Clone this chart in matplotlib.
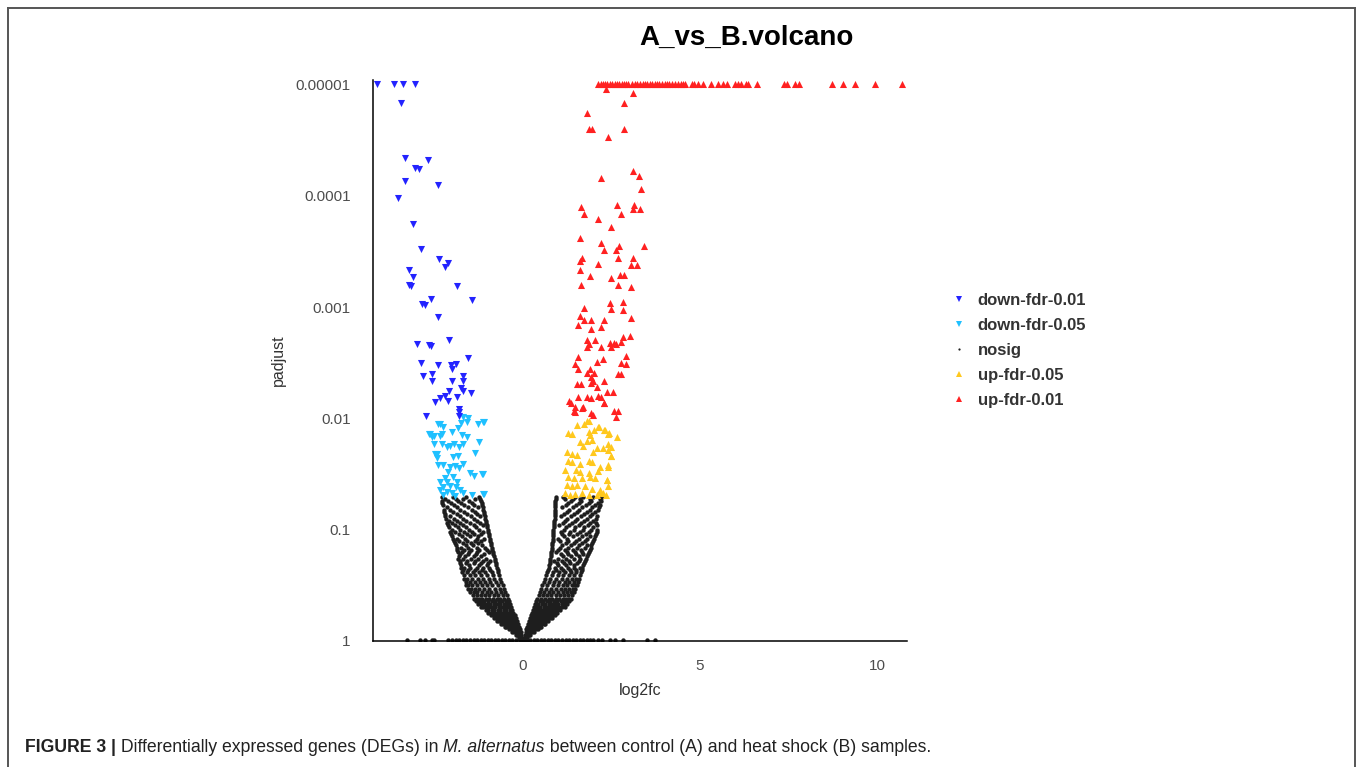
import matplotlib
matplotlib.use("Agg")
import matplotlib.pyplot as plt
from matplotlib.lines import Line2D

plt.rcParams['font.family'] = ['Liberation Sans', 'DejaVu Sans']

# ---- data: (log2fc, -log10 padjust) ----
# padjust is capped at 1e-5, so many up genes sit on the top row (y = 5)
up01_top_x = [2.13, 2.19, 2.25, 2.32, 2.36, 2.45, 2.52, 2.60, 2.66, 2.72, 2.79, 2.85,
              2.90, 2.98, 3.07, 3.15, 3.23, 3.30, 3.38, 3.45, 3.51, 3.59, 3.64, 3.72,
              3.79, 3.85, 3.93, 4.01, 4.06, 4.13, 4.21, 4.29, 4.39, 4.45, 4.52, 4.58,
              4.77, 4.84, 4.95, 5.08, 5.30, 5.52, 5.64, 5.77, 5.99, 6.08, 6.15, 6.30,
              6.36, 6.62, 7.37, 7.45, 7.68, 7.80, 8.74, 9.05, 9.38, 9.94, 10.72]

up01_pts = [(2.34, 4.96), (3.10, 4.92), (2.86, 4.83), (1.80, 4.74), (1.85, 4.60),
            (1.96, 4.60), (2.86, 4.60), (2.41, 4.53), (2.20, 4.16), (3.10, 4.22),
            (3.27, 4.18), (3.34, 4.06), (1.64, 3.90), (1.72, 3.84), (2.66, 3.92),
            (2.78, 3.84), (3.14, 3.92), (3.10, 3.88), (3.31, 3.88), (2.13, 3.79),
            (2.49, 3.72), (1.60, 3.62), (2.20, 3.58), (2.29, 3.51), (2.62, 3.51),
            (2.70, 3.55), (3.43, 3.55), (1.68, 3.44), (1.60, 3.41), (2.13, 3.39),
            (2.69, 3.44), (3.10, 3.44), (3.06, 3.38), (3.22, 3.38), (1.60, 3.33),
            (1.88, 3.28), (2.49, 3.26), (2.74, 3.29), (2.86, 3.29), (1.64, 3.20),
            (2.69, 3.20), (3.06, 3.18), (2.45, 3.04), (2.82, 3.05), (1.72, 2.99),
            (2.49, 2.98), (2.82, 2.97), (1.60, 2.92), (1.72, 2.88), (1.92, 2.88),
            (2.29, 2.88), (3.06, 2.90), (1.55, 2.84), (2.20, 2.82), (1.92, 2.80),
            (2.82, 2.73), (3.02, 2.74), (1.80, 2.70), (1.85, 2.67), (2.04, 2.70),
            (2.45, 2.68), (2.57, 2.68), (2.62, 2.67), (2.78, 2.69), (1.80, 2.64),
            (2.20, 2.64), (2.49, 2.64), (2.90, 2.56), (1.55, 2.55), (1.48, 2.49),
            (2.25, 2.53), (2.09, 2.51), (2.78, 2.50), (2.90, 2.49), (1.55, 2.44),
            (1.80, 2.41), (1.89, 2.44), (2.01, 2.41), (2.69, 2.40), (2.78, 2.40),
            (1.92, 2.37), (1.97, 2.34), (2.29, 2.34), (1.52, 2.31), (1.64, 2.31),
            (1.92, 2.32), (2.09, 2.28), (2.37, 2.24), (2.53, 2.24), (1.55, 2.19),
            (1.80, 2.19), (1.92, 2.18), (2.13, 2.20), (2.21, 2.19), (1.31, 2.16),
            (1.36, 2.14), (2.29, 2.14), (1.48, 2.10), (1.68, 2.09), (1.48, 2.06),
            (1.92, 2.05), (1.97, 2.03), (2.57, 2.07), (2.69, 2.07), (2.62, 2.01),
            (1.44, 2.07), (1.69, 2.10), (2.30, 2.14)]

up05_pts = [(1.82, 1.98), (1.52, 1.94), (1.73, 1.95), (2.13, 1.92), (2.30, 1.90),
            (1.26, 1.87), (1.39, 1.86), (1.85, 1.88), (1.89, 1.85), (2.39, 1.86),
            (2.65, 1.83), (1.61, 1.79), (1.80, 1.80), (1.94, 1.81), (2.08, 1.73),
            (2.27, 1.73), (2.39, 1.72), (1.23, 1.70), (1.37, 1.68), (1.52, 1.67),
            (2.49, 1.66), (1.85, 1.62), (1.96, 1.61), (1.28, 1.62), (1.37, 1.61),
            (1.61, 1.59), (2.18, 1.56), (2.41, 1.56), (1.19, 1.54), (1.49, 1.54),
            (1.61, 1.52), (1.85, 1.51), (2.13, 1.53), (1.28, 1.47), (1.45, 1.46),
            (1.66, 1.46), (1.89, 1.47), (2.03, 1.46), (2.36, 1.45), (1.23, 1.40),
            (1.37, 1.39), (1.52, 1.40), (1.75, 1.39), (1.94, 1.37), (2.18, 1.36),
            (2.41, 1.39), (1.19, 1.33), (1.33, 1.31), (1.47, 1.32), (1.66, 1.33),
            (1.85, 1.31), (2.08, 1.31), (2.27, 1.33), (1.87, 1.98), (2.15, 1.92),
            (2.32, 1.90), (2.44, 1.87), (2.48, 1.74), (2.41, 1.77), (2.48, 1.66),
            (2.38, 1.45), (2.34, 1.31), (2.18, 1.34), (2.41, 1.58), (1.98, 1.70),
            (1.70, 1.75), (2.00, 1.90)]

down01_pts = [(-4.12, 5.0), (-3.66, 5.0), (-3.38, 5.0), (-3.05, 5.0), (-3.46, 4.83),
              (-3.33, 4.34), (-2.69, 4.32), (-3.05, 4.25), (-2.93, 4.24), (-3.33, 4.13),
              (-2.41, 4.10), (-3.54, 3.98), (-3.10, 3.75), (-2.89, 3.52), (-2.37, 3.43),
              (-2.13, 3.40), (-2.20, 3.36), (-3.21, 3.33), (-3.10, 3.27), (-3.21, 3.20),
              (-3.17, 3.19), (-1.87, 3.19), (-1.43, 3.06), (-2.61, 3.07), (-2.86, 3.03),
              (-2.77, 3.02), (-2.41, 2.91), (-2.09, 2.70), (-3.00, 2.67), (-2.65, 2.66),
              (-2.61, 2.65), (-1.56, 2.54), (-2.89, 2.50), (-2.41, 2.48), (-2.04, 2.48),
              (-1.89, 2.49), (-2.01, 2.44), (-2.82, 2.38), (-2.58, 2.40), (-2.57, 2.34),
              (-2.01, 2.34), (-1.71, 2.38), (-1.71, 2.34), (-2.09, 2.25), (-1.76, 2.27),
              (-1.71, 2.25), (-1.48, 2.23), (-2.20, 2.20), (-2.36, 2.18), (-2.49, 2.15),
              (-2.13, 2.16), (-1.87, 2.19), (-1.80, 2.08), (-2.74, 2.02), (-1.80, 2.02),
              (-1.80, 2.06)]

down05_pts = [(-2.41, 1.95), (-2.25, 1.92), (-2.01, 1.88), (-1.83, 1.91), (-1.73, 1.85),
              (-1.59, 1.83), (-1.59, 1.97), (-1.55, 2.00), (-1.69, 2.01), (-1.26, 1.95),
              (-1.12, 1.97), (-2.63, 1.86), (-2.53, 1.84), (-2.36, 1.84), (-2.30, 1.86),
              (-2.51, 1.77), (-2.28, 1.77), (-2.16, 1.74), (-2.06, 1.75), (-1.94, 1.77),
              (-1.80, 1.74), (-1.69, 1.77), (-1.24, 1.79), (-2.49, 1.68), (-2.44, 1.64),
              (-1.97, 1.65), (-1.83, 1.66), (-1.36, 1.69), (-2.39, 1.58), (-2.25, 1.58),
              (-1.69, 1.59), (-2.06, 1.56), (-1.92, 1.57), (-1.80, 1.55), (-2.11, 1.52),
              (-1.50, 1.51), (-1.40, 1.48), (-1.17, 1.50), (-2.20, 1.46), (-1.97, 1.47),
              (-2.34, 1.43), (-2.16, 1.43), (-1.87, 1.43), (-2.25, 1.38), (-2.06, 1.39),
              (-1.89, 1.38), (-2.34, 1.36), (-2.16, 1.34), (-1.78, 1.36), (-2.01, 1.33),
              (-1.69, 1.33), (-1.45, 1.31), (-1.12, 1.32), (-2.25, 1.31), (-1.92, 1.30),
              (-2.36, 1.95), (-2.67, 1.86), (-2.58, 1.83), (-1.10, 1.97), (-2.44, 1.68),
              (-1.12, 1.50), (-1.10, 1.32), (-1.75, 1.96)]

# non-significant genes, row by row: (-log10 padjust, [log2fc, ...])
nosig_left = [
    (0.01, [-0.02, -0.04]),
    (0.03, [-0.03, -0.06, -0.09, -0.12]),
    (0.055, [-0.05, -0.09, -0.13, -0.17, -0.21]),
    (0.08, [-0.07, -0.11, -0.16, -0.21, -0.26, -0.31]),
    (0.105, [-0.10, -0.15, -0.20, -0.25, -0.30, -0.35, -0.41]),
    (0.13, [-0.12, -0.17, -0.23, -0.29, -0.35, -0.41, -0.47, -0.52]),
    (0.155, [-0.15, -0.21, -0.27, -0.33, -0.39, -0.45, -0.51, -0.57, -0.62]),
    (0.18, [-0.18, -0.24, -0.30, -0.37, -0.44, -0.50, -0.57, -0.63, -0.69, -0.74]),
    (0.205, [-0.21, -0.28, -0.35, -0.42, -0.49, -0.56, -0.63, -0.70, -0.77, -0.83]),
    (0.23, [-0.24, -0.31, -0.39, -0.46, -0.54, -0.61, -0.69, -0.76, -0.84, -0.91]),
    (0.255, [-0.27, -0.35, -0.43, -0.51, -0.59, -0.67, -0.75, -0.83, -0.91, -0.99]),
    (0.28, [-0.30, -0.38, -0.47, -0.55, -0.64, -0.72, -0.81, -0.89, -0.98, -1.06]),
    (0.305, [-0.33, -0.42, -0.51, -0.60, -0.69, -0.78, -0.87, -0.96, -1.05, -1.13, -1.20]),
    (0.33, [-0.36, -0.45, -0.55, -0.64, -0.74, -0.83, -0.93, -1.02, -1.11, -1.20, -1.27]),
    (0.355, [-0.39, -0.49, -0.59, -0.69, -0.79, -0.89, -0.99, -1.09, -1.18, -1.27, -1.34]),
    (0.38, [-0.42, -0.53, -0.64, -0.74, -0.85, -0.95, -1.05, -1.15, -1.25, -1.33, -1.40]),
    (0.41, [-0.46, -0.58, -0.70, -0.83, -0.95, -1.07, -1.19, -1.31, -1.42]),
    (0.44, [-0.50, -0.63, -0.77, -0.90, -1.03, -1.16, -1.29, -1.40, -1.50]),
    (0.47, [-0.53, -0.66, -0.80, -0.95, -1.10, -1.24, -1.37, -1.48, -1.56]),
    (0.50, [-0.57, -0.72, -0.88, -1.02, -1.17, -1.30, -1.43, -1.55, -1.61]),
    (0.53, [-0.61, -0.76, -0.93, -1.08, -1.22, -1.36, -1.50, -1.62]),
    (0.56, [-0.64, -0.81, -0.97, -1.13, -1.28, -1.44, -1.58, -1.66]),
    (0.59, [-0.67, -0.85, -1.02, -1.20, -1.35, -1.51, -1.68]),
    (0.62, [-0.70, -0.88, -1.07, -1.25, -1.42, -1.58, -1.72]),
    (0.64, [-0.72, -0.93, -1.15, -1.37, -1.55, -1.70]),
    (0.66, [-0.74, -0.95, -1.12, -1.31, -1.49, -1.66, -1.76]),
    (0.68, [-0.76, -1.03, -1.24, -1.52, -1.74]),
    (0.70, [-0.77, -0.98, -1.18, -1.40, -1.60, -1.79]),
    (0.72, [-0.79, -0.92, -1.14, -1.35, -1.58, -1.77]),
    (0.74, [-0.80, -1.05, -1.27, -1.46, -1.71, -1.83]),
    (0.76, [-0.82, -1.18, -1.40, -1.63, -1.81]),
    (0.78, [-0.84, -1.10, -1.33, -1.55, -1.77]),
    (0.80, [-0.86, -0.97, -1.29, -1.53, -1.72, -1.84]),
    (0.82, [-0.87, -1.02, -1.24, -1.48, -1.66, -1.86]),
    (0.84, [-0.88, -1.08, -1.31, -1.55, -1.75, -1.88]),
    (0.86, [-0.90, -1.15, -1.41, -1.62, -1.90]),
    (0.88, [-0.91, -1.26, -1.47, -1.70, -1.93]),
    (0.90, [-0.92, -1.19, -1.36, -1.58, -1.80, -1.96]),
    (0.92, [-0.93, -1.09, -1.31, -1.64, -1.87, -1.99]),
    (0.94, [-0.95, -1.27, -1.50, -1.73, -2.01]),
    (0.96, [-0.96, -1.20, -1.38, -1.59, -1.81, -2.04]),
    (0.98, [-0.98, -1.13, -1.44, -1.68, -1.92, -2.06]),
    (1.00, [-1.00, -1.24, -1.52, -1.77, -2.00]),
    (1.02, [-1.01, -1.33, -1.61, -1.85, -2.10]),
    (1.04, [-1.02, -1.14, -1.40, -1.69, -1.93, -2.12]),
    (1.06, [-1.04, -1.22, -1.49, -1.79, -2.02, -2.15]),
    (1.08, [-1.05, -1.31, -1.60, -1.87, -2.09]),
    (1.10, [-1.07, -1.40, -1.70, -1.95, -2.18]),
    (1.12, [-1.08, -1.21, -1.48, -1.79, -2.05, -2.20]),
    (1.14, [-1.10, -1.30, -1.58, -1.88, -2.21]),
    (1.16, [-1.11, -1.37, -1.67, -1.97, -2.22]),
    (1.18, [-1.13, -1.45, -1.77, -2.05, -2.24]),
    (1.20, [-1.14, -1.28, -1.55, -1.86, -2.14]),
    (1.22, [-1.16, -1.38, -1.66, -1.96, -2.27]),
    (1.24, [-1.17, -1.44, -1.75, -2.04, -2.28]),
    (1.26, [-1.19, -1.52, -1.83, -2.12, -2.29]),
    (1.28, [-1.21, -1.35, -1.70, -1.90, -2.20]),
    (1.29, [-1.24, -1.62, -1.98, -2.30]),
]

nosig_right = [
    (0.01, [0.02, 0.04]),
    (0.03, [0.03, 0.06, 0.09, 0.12]),
    (0.055, [0.05, 0.09, 0.13, 0.17, 0.21]),
    (0.08, [0.07, 0.11, 0.16, 0.21, 0.26, 0.31]),
    (0.105, [0.09, 0.14, 0.19, 0.25, 0.31, 0.36, 0.41]),
    (0.13, [0.11, 0.17, 0.23, 0.29, 0.35, 0.41, 0.47, 0.52]),
    (0.155, [0.14, 0.20, 0.26, 0.33, 0.39, 0.46, 0.52, 0.58, 0.63]),
    (0.18, [0.16, 0.23, 0.30, 0.37, 0.44, 0.51, 0.58, 0.64, 0.70]),
    (0.205, [0.19, 0.26, 0.33, 0.41, 0.48, 0.56, 0.63, 0.70, 0.77, 0.83]),
    (0.23, [0.22, 0.29, 0.37, 0.45, 0.53, 0.61, 0.69, 0.76, 0.84, 0.90]),
    (0.255, [0.25, 0.33, 0.41, 0.49, 0.57, 0.66, 0.74, 0.82, 0.90, 0.97]),
    (0.28, [0.28, 0.36, 0.45, 0.54, 0.62, 0.71, 0.80, 0.88, 0.97, 1.05]),
    (0.305, [0.31, 0.40, 0.49, 0.58, 0.67, 0.76, 0.85, 0.94, 1.03, 1.11, 1.18]),
    (0.33, [0.34, 0.43, 0.53, 0.62, 0.72, 0.81, 0.90, 1.00, 1.09, 1.17, 1.24]),
    (0.355, [0.37, 0.47, 0.57, 0.67, 0.77, 0.87, 0.97, 1.07, 1.16, 1.24, 1.30]),
    (0.38, [0.40, 0.51, 0.61, 0.72, 0.82, 0.92, 1.02, 1.12, 1.21, 1.29, 1.35]),
    (0.41, [0.44, 0.56, 0.68, 0.80, 0.92, 1.04, 1.16, 1.27, 1.38]),
    (0.44, [0.47, 0.60, 0.73, 0.86, 0.99, 1.12, 1.24, 1.35, 1.43]),
    (0.47, [0.50, 0.64, 0.78, 0.92, 1.06, 1.19, 1.31, 1.41, 1.48]),
    (0.50, [0.54, 0.69, 0.84, 0.98, 1.12, 1.25, 1.38, 1.47, 1.53]),
    (0.53, [0.58, 0.73, 0.88, 1.03, 1.18, 1.31, 1.44, 1.56]),
    (0.56, [0.61, 0.77, 0.93, 1.09, 1.24, 1.38, 1.50, 1.59]),
    (0.59, [0.65, 0.81, 0.98, 1.14, 1.30, 1.45, 1.62]),
    (0.62, [0.68, 0.85, 1.02, 1.19, 1.36, 1.51, 1.64]),
    (0.64, [0.70, 0.92, 1.13, 1.33, 1.50, 1.66]),
    (0.66, [0.72, 0.90, 1.08, 1.27, 1.44, 1.60, 1.68]),
    (0.68, [0.73, 0.99, 1.22, 1.45, 1.70]),
    (0.70, [0.75, 0.95, 1.15, 1.34, 1.53, 1.72]),
    (0.72, [0.76, 0.88, 1.10, 1.30, 1.57, 1.75]),
    (0.74, [0.77, 1.00, 1.22, 1.43, 1.62, 1.78]),
    (0.76, [0.78, 1.13, 1.36, 1.58, 1.80]),
    (0.78, [0.79, 1.06, 1.28, 1.50, 1.70, 1.83]),
    (0.80, [0.80, 0.93, 1.24, 1.47, 1.68, 1.86]),
    (0.82, [0.81, 0.98, 1.19, 1.42, 1.63, 1.88]),
    (0.84, [0.82, 1.04, 1.28, 1.52, 1.74, 1.91]),
    (0.86, [0.83, 1.10, 1.36, 1.58, 1.80, 1.93]),
    (0.88, [0.83, 1.20, 1.43, 1.66, 1.96]),
    (0.90, [0.84, 1.04, 1.27, 1.50, 1.74, 1.98]),
    (0.92, [0.84, 0.99, 1.23, 1.57, 1.82, 2.01]),
    (0.94, [0.85, 1.15, 1.42, 1.68, 1.90, 2.03]),
    (0.96, [0.85, 1.10, 1.30, 1.52, 1.78, 2.06]),
    (0.98, [0.86, 1.08, 1.33, 1.60, 1.85, 2.09]),
    (1.00, [0.86, 1.16, 1.43, 1.69, 1.93, 2.10]),
    (1.02, [0.87, 1.20, 1.47, 1.73, 1.97]),
    (1.04, [0.87, 1.03, 1.30, 1.58, 1.84, 2.08]),
    (1.06, [0.88, 1.12, 1.38, 1.65, 1.90, 2.05]),
    (1.08, [0.88, 1.19, 1.47, 1.72, 1.98]),
    (1.10, [0.89, 1.25, 1.53, 1.80, 2.07]),
    (1.12, [0.89, 1.08, 1.36, 1.63, 1.88, 2.08]),
    (1.14, [0.90, 1.16, 1.44, 1.71, 1.95]),
    (1.16, [0.90, 1.24, 1.52, 1.80, 2.04]),
    (1.18, [0.90, 1.30, 1.58, 1.88, 2.12]),
    (1.20, [0.90, 1.11, 1.40, 1.68, 1.95, 2.15]),
    (1.22, [0.91, 1.21, 1.49, 1.77, 2.02, 2.18]),
    (1.24, [0.91, 1.27, 1.57, 1.85, 2.11]),
    (1.26, [0.91, 1.35, 1.64, 1.93, 2.20]),
    (1.28, [0.92, 1.18, 1.40, 1.62, 1.88, 2.18]),
    (1.29, [0.93, 1.12, 1.46, 1.70, 1.99, 2.22]),
]

# genes with padjust ~ 1 lying on the bottom of the plot
nosig_bottom_x = [-3.29, -2.91, -2.77, -2.58, -2.53, -2.11, -2.0, -1.9, -1.8, -1.7, -1.6,
                  -1.5, -1.4, -1.3, -1.2, -1.1, -1.0, -0.9, -0.8, -0.7, -0.6, -0.5, -0.4,
                  -0.3, -0.2, -0.1, 0.1, 0.2, 0.3, 0.4, 0.5, 0.6, 0.7, 0.8, 0.9, 1.0, 1.1,
                  1.2, 1.3, 1.4, 1.5, 1.6, 1.7, 1.8, 1.89, 1.99, 2.13, 2.22, 2.46, 2.60,
                  2.83, 3.49, 3.73]

xticks = [0, 5, 10]
yticks = [0, 1, 2, 3, 4, 5]
ytick_labels = ['1', '0.1', '0.01', '0.001', '0.0001', '0.00001']

colors = {'down-fdr-0.01': '#2323ff', 'down-fdr-0.05': '#1fc0ff', 'nosig': '#1e1e1e',
          'up-fdr-0.05': '#ffc81e', 'up-fdr-0.01': '#ff2121'}

# ---- figure ----
W, H = 1358, 767
fig = plt.figure(figsize=(W / 100, H / 100), dpi=100)
ax = fig.add_axes([373 / W, 1 - 641 / H, (907 - 373) / W, (641 - 80) / H])

nx, ny = [], []
for y, xs in nosig_left + nosig_right:
    nx += xs
    ny += [y] * len(xs)
nx += nosig_bottom_x
ny += [0.012] * len(nosig_bottom_x)
ax.scatter(nx, ny, s=10, marker='o', color=colors['nosig'], linewidths=0, zorder=2)

def unzip(pts):
    return [p[0] for p in pts], [p[1] for p in pts]

tri = 26
x, y = unzip(down05_pts)
ax.scatter(x, y, s=tri, marker='v', color=colors['down-fdr-0.05'], linewidths=0, zorder=3)
x, y = unzip(down01_pts)
ax.scatter(x, y, s=tri, marker='v', color=colors['down-fdr-0.01'], linewidths=0, zorder=3)
x, y = unzip(up05_pts)
ax.scatter(x, y, s=tri, marker='^', color=colors['up-fdr-0.05'], linewidths=0, zorder=3)
x, y = unzip(up01_pts)
ax.scatter(x, y, s=tri, marker='^', color=colors['up-fdr-0.01'], linewidths=0, zorder=3)
ax.scatter(up01_top_x, [5.0] * len(up01_top_x), s=tri, marker='^',
           color=colors['up-fdr-0.01'], linewidths=0, zorder=3)

ax.set_xlim(-4.24, 10.85)
ax.set_ylim(0, 5.04)
ax.set_xticks(xticks)
ax.set_yticks(yticks)
ax.set_yticklabels(ytick_labels)
ax.tick_params(length=0, labelsize=11, labelcolor='#4d4d4d')
ax.tick_params(axis='y', pad=16)
ax.tick_params(axis='x', pad=13)
for side in ['top', 'right']:
    ax.spines[side].set_visible(False)
for side in ['left', 'bottom']:
    ax.spines[side].set_linewidth(1.1)
    ax.spines[side].set_color('black')
ax.set_xlabel('log2fc', fontsize=11.5, color='#333333', va='center')
ax.set_ylabel('padjust', fontsize=11.5, color='#333333', va='center')
ax.xaxis.set_label_coords(0.5, (641 - 690) / 561)
ax.yaxis.set_label_coords((278 - 373) / 534, 0.5)

fig.text(0.55, 1 - 38 / H, 'A_vs_B.volcano', ha='center', va='center',
         fontsize=20, fontweight='bold')

# legend
handles = []
for name in ['down-fdr-0.01', 'down-fdr-0.05', 'nosig', 'up-fdr-0.05', 'up-fdr-0.01']:
    if name == 'nosig':
        m, ms = 'o', 1.6
    elif name.startswith('down'):
        m, ms = 'v', 4.2
    else:
        m, ms = '^', 4.2
    handles.append(Line2D([], [], linestyle='none', marker=m, markersize=ms,
                          color=colors[name], markeredgewidth=0, label=name))
leg = fig.legend(handles=handles, loc='upper left', bbox_to_anchor=(951 / W, 1 - 293 / H),
                 frameon=False, prop={'size': 12, 'weight': 'bold'}, handlelength=1.0,
                 handletextpad=0.6, labelspacing=0.6, borderpad=0, borderaxespad=0)
for t in leg.get_texts():
    t.set_color('#333333')

# outer frame of the figure panel
frame = dict(color='#555555', lw=1.4, transform=fig.transFigure)
fig.add_artist(Line2D([8 / W, 8 / W], [0, 1 - 8 / H], **frame))
fig.add_artist(Line2D([8 / W, 1355 / W], [1 - 8 / H, 1 - 8 / H], **frame))
fig.add_artist(Line2D([1355 / W, 1355 / W], [1 - 8 / H, 0], **frame))

# caption with mixed styles
cap_family = ['Liberation Sans Narrow', 'Liberation Sans', 'DejaVu Sans']
parts = [('FIGURE 3 |', 'bold', 'normal'),
         (' Differentially expressed genes (DEGs) in ', 'normal', 'normal'),
         ('M. alternatus', 'normal', 'italic'),
         (' between control (A) and heat shock (B) samples.', 'normal', 'normal')]
renderer = fig.canvas.get_renderer()
cx = 25 / W
for txt, weight, style in parts:
    t = fig.text(cx, 1 - 748 / H, txt, fontsize=12.7, fontweight=weight, fontstyle=style,
                 family=cap_family, va='center', ha='left', color='#222222')
    bb = t.get_window_extent(renderer=renderer)
    cx = bb.x1 / W

fig.savefig('out.png', dpi=100)
